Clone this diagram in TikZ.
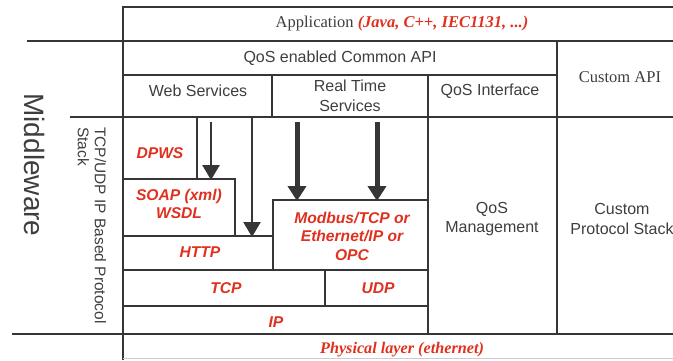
\documentclass[tikz,border=0pt]{standalone}
\usepackage{fontspec}
\setmainfont{Liberation Serif}
\setsansfont{Liberation Sans}
\usetikzlibrary{arrows.meta}
\definecolor{ln}{HTML}{363636}
\definecolor{tx}{HTML}{3E3E3E}
\definecolor{rd}{HTML}{E0301E}
\tikzset{
  grid/.style={draw=ln, line width=2pt},
  lab/.style={font=\sffamily\fontsize{16}{19.5}\selectfont, text=tx, align=center, inner sep=0pt},
  rlab/.style={font=\sffamily\bfseries\itshape\fontsize{15.6}{18.5}\selectfont, text=rd, align=center, inner sep=0pt},
  slab/.style={font=\rmfamily\fontsize{16.5}{19}\selectfont, text=tx, align=center, inner sep=0pt},
  thinarr/.style={draw=ln, fill=ln, line width=2.5pt, -{Triangle[width=17pt,length=15pt]}, shorten >=-1pt},
  thickarr/.style={draw=ln, fill=ln, line width=5pt, -{Triangle[width=18pt,length=15pt]}, shorten >=-1pt}
}
\begin{document}
\begin{tikzpicture}[x=1pt,y=-1pt]
\useasboundingbox (0,0) rectangle (673,360);
% grid lines
\draw[grid] (123,7) -- (673,7);
\draw[grid] (123,6) -- (123,360);
\draw[grid] (27,41) -- (673,41);
\draw[grid] (123,75) -- (557,75);
\draw[grid] (557,41) -- (557,334);
\draw[grid] (70,117) -- (673,117);
\draw[grid] (272,75) -- (272,117);
\draw[grid] (428,75) -- (428,334);
\draw[grid] (197,117) -- (197,179);
\draw[grid] (123,179) -- (235,179) -- (235,236);
\draw[grid] (123,236) -- (273,236);
\draw[grid] (273,270) -- (273,200) -- (428,200);
\draw[grid] (123,270) -- (428,270);
\draw[grid] (325,270) -- (325,306);
\draw[grid] (123,306) -- (428,306);
\draw[grid] (12,334) -- (673,334);
\draw[draw=black!20, line width=1pt] (123,358) -- (673,358);
% arrow end points
\coordinate (a1s) at (211,122); \coordinate (a1e) at (211,179);
\coordinate (a2s) at (252,117); \coordinate (a2e) at (252,236);
\coordinate (a3s) at (297,122); \coordinate (a3e) at (297,200);
\coordinate (a4s) at (377,122); \coordinate (a4e) at (377,200);
\draw[thinarr] (a1s) -- (a1e);
\draw[thinarr] (a2s) -- (a2e);
\draw[thickarr] (a3s) -- (a3e);
\draw[thickarr] (a4s) -- (a4e);
% labels
\node[slab] (app) at (402,24) {Application \textcolor{rd}{\textbf{\textit{(Java, C++, IEC1131, ...)}}}};
\node[lab] (capi) at (340,58) {QoS enabled Common API};
\node[lab] (ws) at (198,91) {Web Services};
\node[lab] (rts) at (350,96) {Real Time\\Services};
\node[lab] (qi) at (490,91) {QoS Interface};
\node[slab] (custapi) at (620,77) {Custom API};
\node[rlab] (dpws) at (160,153) {DPWS};
\node[rlab] (soap) at (179,204) {SOAP (xml)\\WSDL};
\node[rlab] (http) at (200,252) {HTTP};
\node[rlab] (mod) at (352,236) {Modbus/TCP or\\Ethernet/IP or\\OPC};
\node[rlab] (tcp) at (226,288) {TCP};
\node[rlab] (udp) at (378,288) {UDP};
\node[rlab] (ip) at (276,322) {IP};
\node[lab] (qm) at (492,219) {QoS\\Management};
\node[lab] (cps) at (622,219) {Custom\\Protocol Stack};
\node[slab, font=\rmfamily\bfseries\itshape\fontsize{16.2}{18}\selectfont, text=rd] (phy) at (402,350) {Physical layer (ethernet)};
\node[lab, font=\sffamily\fontsize{28}{30}\selectfont, rotate=-90] (mw) at (35,165) {Middleware};
\node[lab, font=\sffamily\fontsize{15.5}{17}\selectfont, align=left, rotate=-90, anchor=west] (stack) at (92,127) {TCP/UDP IP Based Protocol\\Stack};
\end{tikzpicture}
\end{document}
